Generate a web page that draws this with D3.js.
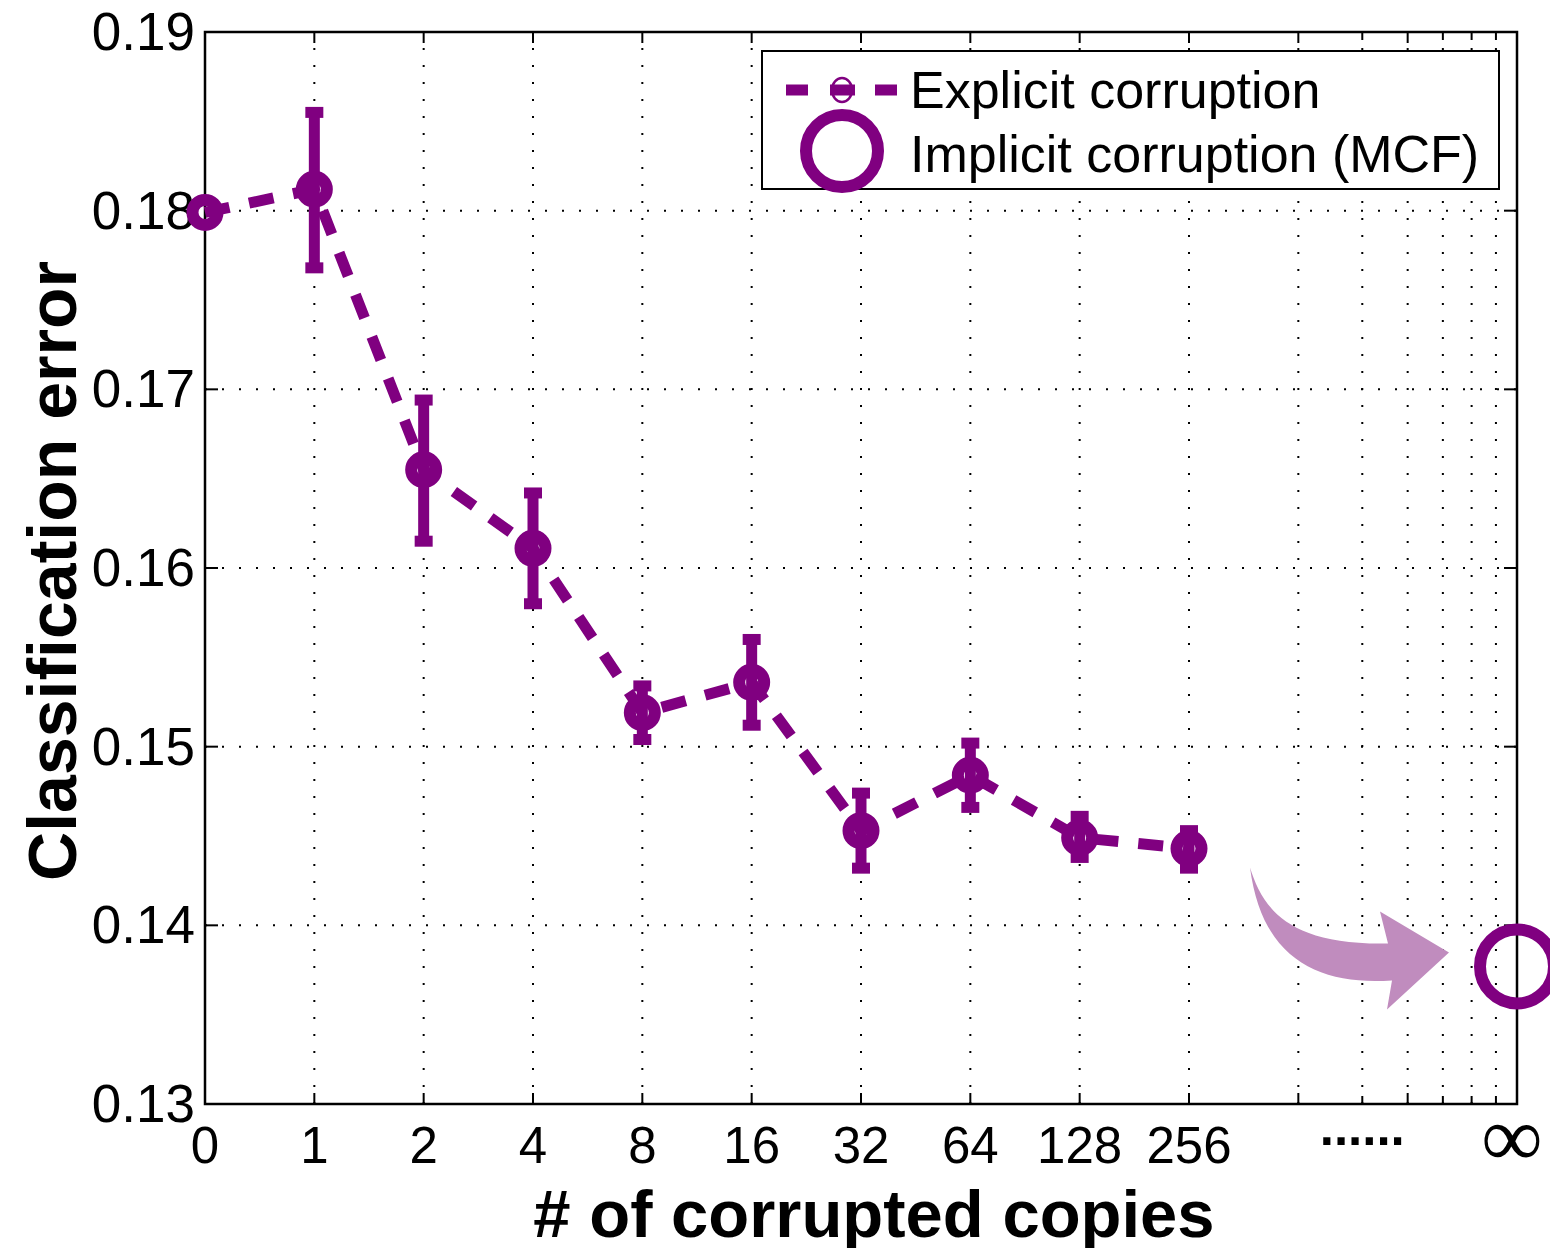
<!DOCTYPE html>
<html>
<head>
<meta charset="utf-8">
<script src="https://cdn.jsdelivr.net/npm/d3@7"></script>
<style>
  body { margin: 0; background: #fff; }
  text { font-family: "Liberation Sans", Arial, Helvetica, sans-serif; }
</style>
</head>
<body>
<svg id="chart" width="1550" height="1248"></svg>
<script>
// data
var copyLabels = ["0", "1", "2", "4", "8", "16", "32", "64", "128", "256"];
var copyPos = [1, 2, 4, 8, 16, 32, 64, 128, 256, 512];   // log2 axis position
var errMean = [0.1799, 0.1812, 0.1655, 0.1611, 0.1519, 0.1536, 0.1453, 0.1484, 0.1449, 0.1443];
var errLow  = [null, 0.1768, 0.1615, 0.1580, 0.1504, 0.1512, 0.1432, 0.1466, 0.1438, 0.1432];
var errHigh = [null, 0.1855, 0.1694, 0.1642, 0.1534, 0.1560, 0.1474, 0.1502, 0.1461, 0.1453];
var mcfPos = 4096, mcfErr = 0.1377;

var majorTicks = [1, 2, 4, 8, 16, 32, 64, 128, 256, 512, 1024, 2048, 4096];
var minorTicks = [1536, 2560, 3072, 3584];
var xTickLabels = {1: "0", 2: "1", 4: "2", 8: "4", 16: "8", 32: "16", 64: "32", 128: "64", 256: "128", 512: "256", 1536: "......"};
var yTicks = [0.13, 0.14, 0.15, 0.16, 0.17, 0.18, 0.19];

var purple = "#800080";
var m = {l: 205, r: 1517, t: 32, b: 1104};

var svg = d3.select("#chart");
var x = d3.scaleLog().base(2).domain([1, 4096]).range([m.l, m.r]);
var y = d3.scaleLinear().domain([0.13, 0.19]).range([m.b, m.t]);

// grid
var grid = svg.append("g");
grid.selectAll("line.vg").data(majorTicks.concat(minorTicks).filter(function(d){ return d > 1 && d < 4096; }))
  .enter().append("line")
  .attr("x1", function(d){ return x(d); }).attr("x2", function(d){ return x(d); })
  .attr("y1", m.b).attr("y2", m.t)
  .attr("stroke", "#000").attr("stroke-width", 2).attr("stroke-dasharray", "2,15");
grid.selectAll("line.hg").data(yTicks.slice(1, -1))
  .enter().append("line")
  .attr("x1", m.l).attr("x2", m.r)
  .attr("y1", function(d){ return y(d); }).attr("y2", function(d){ return y(d); })
  .attr("stroke", "#000").attr("stroke-width", 2).attr("stroke-dasharray", "2,15");

// ticks (inward, on all four sides)
var ticks = svg.append("g").attr("stroke", "#000").attr("stroke-width", 2);
majorTicks.concat(minorTicks).forEach(function(d){
  var len = minorTicks.indexOf(d) >= 0 ? 8 : 11;
  ticks.append("line").attr("x1", x(d)).attr("x2", x(d)).attr("y1", m.b).attr("y2", m.b - len);
  ticks.append("line").attr("x1", x(d)).attr("x2", x(d)).attr("y1", m.t).attr("y2", m.t + len);
});
yTicks.forEach(function(d){
  ticks.append("line").attr("x1", m.l).attr("x2", m.l + 13).attr("y1", y(d)).attr("y2", y(d));
  ticks.append("line").attr("x1", m.r).attr("x2", m.r - 13).attr("y1", y(d)).attr("y2", y(d));
});

svg.append("rect")
  .attr("x", m.l).attr("y", m.t).attr("width", m.r - m.l).attr("height", m.b - m.t)
  .attr("fill", "none").attr("stroke", "#000").attr("stroke-width", 2.5);

// tick labels
svg.selectAll("text.yl").data(yTicks).enter().append("text")
  .attr("x", m.l - 10).attr("y", function(d){ return y(d) + 18; })
  .attr("text-anchor", "end").attr("font-size", 53)
  .text(function(d){ return d3.format(".2f")(d); });

svg.selectAll("text.xl").data(Object.keys(xTickLabels)).enter().append("text")
  .attr("x", function(d){ return x(+d); })
  .attr("y", function(d){ return xTickLabels[d] === "......" ? 1145 : 1163; })
  .attr("text-anchor", "middle")
  .attr("font-size", 51)
  .attr("font-weight", function(d){ return xTickLabels[d] === "......" ? "bold" : "normal"; })
  .text(function(d){ return xTickLabels[d]; });

// infinity label, thin and wide like the original
svg.append("text")
  .attr("x", x(4096) - 5).attr("y", 1166)
  .attr("text-anchor", "middle")
  .style("font-family", "'Liberation Serif', serif")
  .attr("font-size", 86)
  .text("\u221E");

// axis titles
svg.append("text")
  .attr("x", 874).attr("y", 1237)
  .attr("text-anchor", "middle").attr("font-size", 67).attr("font-weight", "bold")
  .text("# of corrupted copies");
svg.append("text")
  .attr("transform", "translate(76,571) rotate(-90)")
  .attr("text-anchor", "middle").attr("font-size", 68).attr("font-weight", "bold")
  .text("Classification error");

// arrow towards the MCF point
var ax = x(mcfPos), ay = y(mcfErr);
var arrowPts = "M" + (ax - 267) + "," + (ay - 99) +
  " C" + (ax - 255) + "," + (ay - 61) + " " + (ax - 232) + "," + (ay - 21) + " " + (ax - 129) + "," + (ay - 23) +
  " L" + (ax - 137) + "," + (ay - 55) +
  " L" + (ax - 68) + "," + (ay - 14) +
  " L" + (ax - 130) + "," + (ay + 43) +
  " L" + (ax - 125) + "," + (ay + 14) +
  " C" + (ax - 197) + "," + (ay + 19) + " " + (ax - 255) + "," + (ay - 6) + " " + (ax - 267) + "," + (ay - 99) + " Z";
svg.append("path").attr("d", arrowPts).attr("fill", "#c08cbe");

// explicit corruption series
var pts = copyPos.map(function(p, i){ return {x: p, m: errMean[i], lo: errLow[i], hi: errHigh[i]}; });
var line = d3.line().x(function(d){ return x(d.x); }).y(function(d){ return y(d.m); });
svg.append("path").datum(pts).attr("d", line)
  .attr("fill", "none").attr("stroke", purple).attr("stroke-width", 11).attr("stroke-dasharray", "25,20");

var eb = svg.append("g").attr("stroke", purple).attr("stroke-width", 11);
pts.filter(function(d){ return d.lo !== null; }).forEach(function(d){
  var cx = x(d.x);
  eb.append("line").attr("x1", cx).attr("x2", cx).attr("y1", y(d.lo)).attr("y2", y(d.hi));
  eb.append("line").attr("x1", cx - 9).attr("x2", cx + 9).attr("y1", y(d.lo)).attr("y2", y(d.lo));
  eb.append("line").attr("x1", cx - 9).attr("x2", cx + 9).attr("y1", y(d.hi)).attr("y2", y(d.hi));
});
svg.selectAll("circle.pt").data(pts).enter().append("circle")
  .attr("cx", function(d){ return x(d.x); }).attr("cy", function(d){ return y(d.m); })
  .attr("r", 12.5).attr("fill", "none").attr("stroke", purple).attr("stroke-width", 12);

// implicit corruption (MCF)
svg.append("circle").attr("cx", ax).attr("cy", ay).attr("r", 37)
  .attr("fill", "none").attr("stroke", purple).attr("stroke-width", 12);

// legend
var lg = svg.append("g");
lg.append("rect").attr("x", 762).attr("y", 51).attr("width", 737).attr("height", 138)
  .attr("fill", "#fff").attr("stroke", "#000").attr("stroke-width", 2);
lg.append("line").attr("x1", 786).attr("x2", 897).attr("y1", 90).attr("y2", 90)
  .attr("stroke", purple).attr("stroke-width", 11).attr("stroke-dasharray", "22,22,25,20,22");
lg.append("ellipse").attr("cx", 842).attr("cy", 90).attr("rx", 10).attr("ry", 12)
  .attr("fill", "none").attr("stroke", purple).attr("stroke-width", 2.5);
lg.append("circle").attr("cx", 842).attr("cy", 151).attr("r", 36)
  .attr("fill", "none").attr("stroke", purple).attr("stroke-width", 12);
lg.append("text").attr("x", 910).attr("y", 108).attr("font-size", 52).text("Explicit corruption");
lg.append("text").attr("x", 910).attr("y", 172).attr("font-size", 52).text("Implicit corruption (MCF)");
</script>
</body>
</html>
